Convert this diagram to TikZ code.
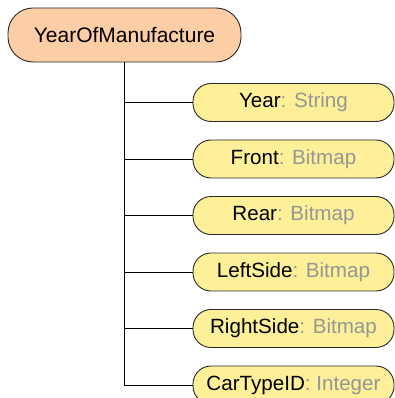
\documentclass[tikz,border=0pt]{standalone}
\usepackage{fontspec}
\setmainfont{Liberation Sans}
\definecolor{rootfill}{RGB}{251,206,166}
\definecolor{childfill}{RGB}{254,240,152}
\definecolor{typegrey}{RGB}{150,150,150}
\definecolor{edgegrey}{RGB}{40,40,40}
\tikzset{
  rootbox/.style={draw=edgegrey, line width=0.9pt, fill=rootfill, rounded corners=25pt,
    minimum width=233pt, minimum height=54pt, inner sep=0pt, font=\fontsize{21}{25}\selectfont},
  attrbox/.style={draw=edgegrey, line width=0.9pt, fill=childfill, rounded corners=18pt,
    minimum width=201pt, minimum height=38pt, inner sep=0pt, font=\fontsize{20.6}{24}\selectfont},
  link/.style={draw=black, line width=0.9pt}
}
\newcommand{\attr}[2]{#1\textcolor{typegrey}{: #2}}
\begin{document}
\begin{tikzpicture}[x=1pt,y=-1pt]
\useasboundingbox (0,0) rectangle (395,398);
\begin{scope}
\clip (0,0) rectangle (395,398);
\node[rootbox] (root) at (124.5,35) {YearOfManufacture};
\node[attrbox] (year) at (293.5,102.5) {\attr{Year}{String}};
\node[attrbox] (front) at (293.5,159) {\attr{Front}{Bitmap}};
\node[attrbox] (rear) at (293.5,215.5) {\attr{Rear}{Bitmap}};
\node[attrbox] (lefts) at (293.5,272) {\attr{LeftSide}{Bitmap}};
\node[attrbox] (rights) at (293.5,328.5) {\attr{RightSide}{Bitmap}};
\node[attrbox] (cartype) at (293.5,385) {\attr{CarTypeID}{Integer}};
\foreach \c in {year,front,rear,lefts,rights,cartype}
  \draw[link] (root.south) |- (\c.west);
\end{scope}
\end{tikzpicture}
\end{document}
